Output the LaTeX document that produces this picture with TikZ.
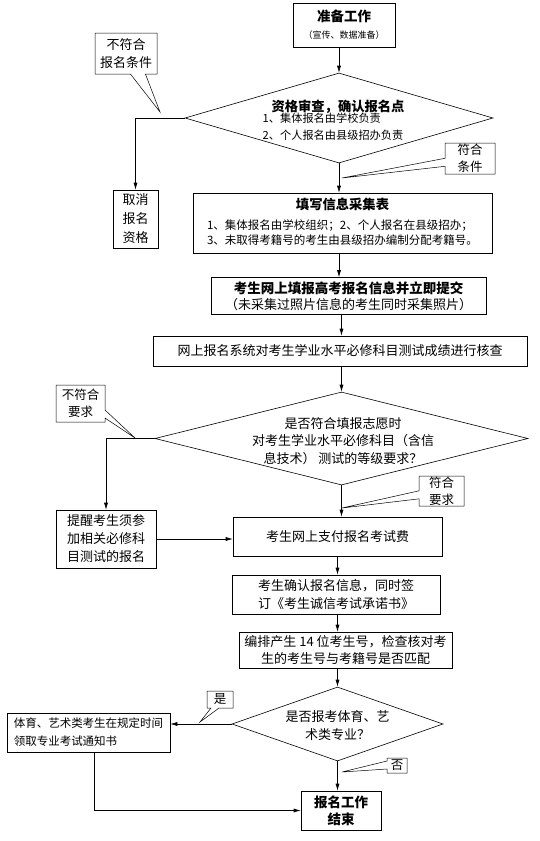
\documentclass[tikz,border=0pt]{standalone}
\usepackage{fontspec}
\setmainfont{Noto Sans CJK SC}
\usetikzlibrary{shapes.geometric,shapes.callouts,arrows.meta}

\newcommand{\fsz}[2]{\fontsize{#1}{#2}\selectfont}

\tikzset{
  box/.style={draw, fill=white, inner sep=0pt, align=center},
  dia/.style={draw, diamond, inner sep=0pt},
  note/.style={draw, rectangle callout, fill=white, line width=0.5pt, inner sep=0pt,
    align=center, callout pointer width=8pt, font=\fsz{12.5}{17}},
  >={Latex[length=7pt,width=4pt]},
}

\begin{document}
\begin{tikzpicture}[x=1pt,y=-1pt,line width=0.6pt,font=\fsz{13}{18}]
\useasboundingbox (0,0) rectangle (540,841);

% main column
\node[box, minimum width=102pt, minimum height=44pt] (prep) at (344,25)
  {{\bfseries\fsz{13.5}{18}准备工作}\\[-1pt]{\fsz{9}{11}（宣传、数据准备）}};
\node[dia, minimum width=308pt, minimum height=90pt] (d1) at (339,118) {};
\node[font=\bfseries\fsz{13.3}{16}] (d1a) at (338,107) {资格审查，确认报名点};
\node[font=\fsz{11.2}{16.5}, align=left] (d1b) at (333,126.5)
  {1、集体报名由学校负责\\2、个人报名由县级招办负责};
\node[box, minimum width=299pt, minimum height=60pt] (fill) at (342.5,223)
  {{\bfseries\fsz{13.3}{18}填写信息采集表}\\[2pt]{\fsz{11.5}{15}\begin{tabular}[t]{@{}l@{}}1、集体报名由学校组织；2、个人报名在县级招办；\\3、未取得考籍号的考生由县级招办编制分配考籍号。\end{tabular}}};
\node[box, minimum width=275pt, minimum height=37pt, font=\fsz{13}{16}] (online) at (348.5,296)
  {{\bfseries\fsz{13.5}{16}考生网上填报高考报名信息并立即提交}\\（未采集过照片信息的考生同时采集照片）};
\node[box, minimum width=374pt, minimum height=30pt] (check) at (340,351)
  {网上报名系统对考生学业水平必修科目测试成绩进行核查};
\node[dia, minimum width=373pt, minimum height=93pt] (d2) at (341.5,438.5) {};
\node[align=center, font=\fsz{13}{17.5}] (d2t) at (343,441)
  {是否符合填报志愿时\\对考生学业水平必修科目（含信\\息技术） 测试的等级要求？};
\node[box, minimum width=209pt, minimum height=39pt] (pay) at (337.5,536.5) {考生网上支付报名考试费};
\node[box, minimum width=208pt, minimum height=39pt] (confirm) at (336,594.5)
  {考生确认报名信息，同时签\\订《考生诚信考试承诺书》};
\node[box, minimum width=213pt, minimum height=36pt, font=\fsz{13}{17}] (arrange) at (345.5,650)
  {编排产生 14 位考生号，检查核对考\\生的考生号与考籍号是否匹配};
\node[dia, minimum width=211pt, minimum height=74pt] (d3) at (337.5,724) {};
\node[align=center] (d3t) at (337.5,726) {是否报考体育、艺\\术类专业？};
\node[box, minimum width=80pt, minimum height=39pt, font=\bfseries\fsz{13.5}{17}] (end) at (341,810.5)
  {报名工作\\结束};

% side boxes
\node[box, minimum width=45pt, minimum height=58pt, font=\fsz{13}{19}] (cancel) at (135.5,219)
  {取消\\报名\\资格};
\node[box, minimum width=100pt, minimum height=58pt] (remind) at (106,539)
  {提醒考生须参\\加相关必修科\\目测试的报名};
\node[box, minimum width=163pt, minimum height=39pt, align=left, font=\fsz{11.5}{18}] (sport) at (88.5,732.5)
  {体育、艺术类考生在规定时间\\领取专业考试通知书};

% connectors
\draw[->] (prep.south -| d1.north) -- (d1.north);
\draw[->] (d1.west) -| (cancel.north);
\draw[->] (d1.south) -- (d1.south |- fill.north);
\draw[->] (fill.south -| d1.south) -- (online.north -| d1.south);
\draw[->] (online.south -| d2.north) -- (check.north -| d2.north);
\draw[->] (check.south -| d2.north) -- (d2.north);
\draw[->] (d2.west) -| (remind.north);
\draw[->] (d2.south) -- (d2.south |- pay.north);
\draw[->] (remind.east) -- (remind.east -| pay.west);
\draw[->] (pay.south -| d3.north) -- (confirm.north -| d3.north);
\draw[->] (confirm.south -| d3.north) -- (arrange.north -| d3.north);
\draw[->] (arrange.south -| d3.north) -- (d3.north);
\draw[->] (d3.west) -- (d3.west -| sport.east);
\draw[->] (d3.south) -- (d3.south |- end.north);
\draw[->] ([xshift=6pt]sport.south) |- (end.west);

% callouts
\coordinate (p1) at (160,112);
\coordinate (p2) at (342,178);
\coordinate (p3) at (135,438);
\coordinate (p4) at (342,508);
\coordinate (p5) at (200,722);
\coordinate (p6) at (342,772);
\node[note, callout pointer width=15pt, minimum width=62pt, minimum height=41pt,
  font=\fsz{13}{18}, callout absolute pointer={(p1)}] (n1) at (126,53.5) {不符合\\报名条件};
\node[note, minimum width=50pt, minimum height=31pt, callout absolute pointer={(p2)}] (n2) at (470,158.5) {符合\\条件};
\node[note, minimum width=49pt, minimum height=37pt, callout absolute pointer={(p3)}] (n3) at (80.5,403.5) {不符合\\要求};
\node[note, minimum width=45pt, minimum height=30pt, callout absolute pointer={(p4)}] (n4) at (441.5,491) {符合\\要求};
\node[note, minimum width=26pt, minimum height=17pt, callout absolute pointer={(p5)}] (n5) at (220,699.5) {是};
\node[note, minimum width=20pt, minimum height=15pt, callout absolute pointer={(p6)}] (n6) at (397,765.5) {否};
\end{tikzpicture}
\end{document}
